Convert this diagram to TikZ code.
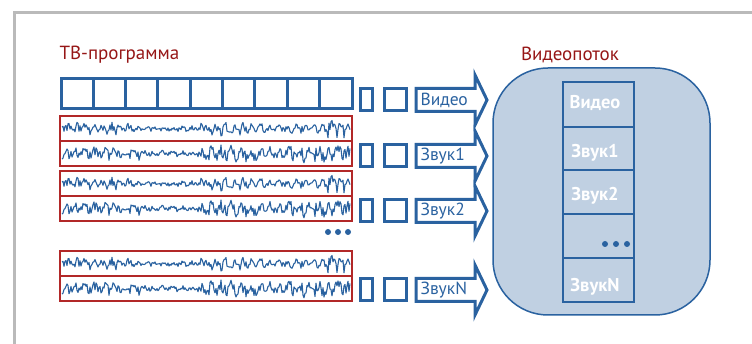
\documentclass[tikz,border=0pt]{standalone}
\usepackage{fontspec}
\setmainfont{PT Sans}
\usetikzlibrary{positioning}
\definecolor{tvblue}{RGB}{42,98,160}
\definecolor{tvred}{RGB}{150,22,22}
\definecolor{tvboxred}{RGB}{178,40,40}
\definecolor{tvfill}{RGB}{192,208,226}
\definecolor{tvframe}{RGB}{186,186,186}
\tikzset{
  declare function={
    tvenva(\t)=(\t<135)?6.5:((\t<200)?3:((\t<212)?6.5:((\t<262)?8:((\t<328)?5:((\t<346)?10.5:5)))));
    tvenvb(\t)=(\t<140)?7:((\t<200)?3.5:((\t<230)?9.5:((\t<300)?8.5:10)));
  },
  frameline/.style={tvblue,line width=3pt},
  audiobox/.style={tvboxred,line width=1.3pt},
  wave/.style={tvblue,line width=1.1pt,line join=round},
  streamarrow/.style={tvblue,fill=white,line width=3pt},
  celltext/.style={white,font=\fontsize{18.5}{20}\selectfont\bfseries},
}
\begin{document}
\begin{tikzpicture}[x=1pt,y=-1pt,font=\fontsize{17.5}{19}\selectfont]
    \useasboundingbox (0,0) rectangle (752,344);
    \draw[tvframe,line width=3pt] (14,344)--(14,13)--(752,13);
    \node[tvred,anchor=west,font=\fontsize{19}{21}\selectfont] (tvtitle) at (56,55) {ТВ-программа};
    % video frames
    \draw[frameline] (61,79) rectangle (352,109);
    \foreach \k in {1,...,8}{\draw[frameline] (61+\k*32.3,79)--(61+\k*32.3,109);}
    % audio tracks
    \foreach \g in {116,171,251}{
      \draw[audiobox] (60,\g) rectangle (352,\g+50);
      \draw[audiobox] (60,\g+25)--(352,\g+25);
      \pgfmathsetseed{17}
      \draw[wave] plot[domain=62:350,samples=289,variable=\t] (\t,{\g+12.5+tvenva(\t)*(0.65*rand+0.35*sin(41*\t))});
      \pgfmathsetseed{29}
      \draw[wave] plot[domain=62:350,samples=289,variable=\t] (\t,{\g+37.5+tvenvb(\t)*(0.65*rand+0.35*sin(37*\t))});
    }
    \foreach \x in {328,338,348}{\fill[tvblue] (\x,232) circle (3);}
    % packets and arrows
    \foreach \c/\txt/\nm in {100/Видео/video,156/Звук1/a1,211/Звук2/a2,290/ЗвукN/aN}{
      \draw[frameline] (360,\c-11)rectangle(372,\c+11);
      \draw[frameline] (384,\c-11)rectangle(406,\c+11);
      \draw[streamarrow] (416,\c-11.5)--(475,\c-11.5)--(475,\c-25)--(487,\c)--(475,\c+25)--(475,\c+11.5)--(416,\c+11.5)--cycle;
      \node[tvblue,anchor=west] (lbl-\nm) at (417,\c) {\txt};
    }
    % video stream
    \draw[tvblue,fill=tvfill,line width=1.5pt,rounded corners=55pt] (493,68) rectangle (710,315);
    \node[tvred,font=\fontsize{19}{21}\selectfont] (streamtitle) at (570,55) {Видеопоток};
    \draw[tvblue,line width=1.3pt] (563,82) rectangle (634,302);
    \foreach \y in {127,170,214,258}{\draw[tvblue,line width=1.3pt] (563,\y)--(634,\y);}
    \node[celltext] (cell-video) at (595,103) {Видео};
    \node[celltext] (cell-a1) at (595,153) {Звук1};
    \node[celltext] (cell-a2) at (595,196) {Звук2};
    \node[celltext] (cell-aN) at (595,287) {ЗвукN};
    \foreach \x in {605,616,627}{\fill[tvblue] (\x,244) circle (3);}
  \end{tikzpicture}
\end{document}
